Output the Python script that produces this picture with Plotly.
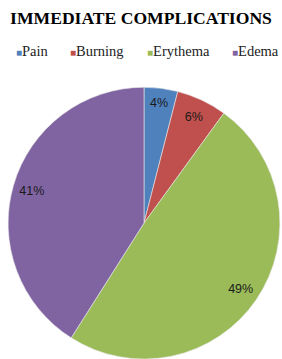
import plotly.graph_objects as go

labels = ["Pain", "Burning", "Erythema", "Edema"]
values = [4, 6, 49, 41]
colors = ["#4F81BD", "#C0504D", "#9BBB59", "#8064A2"]

dom = dict(x=[0.0248, 0.9965], y=[0.0, 0.757])

fig = go.Figure()
# base pie (slices)
fig.add_trace(go.Pie(
    labels=labels, values=values, sort=False, direction="clockwise", rotation=0,
    marker=dict(colors=colors, line=dict(color="#e8e8e8", width=0.6)),
    textinfo="none", hoverinfo="label+percent", domain=dom, showlegend=False,
))
# transparent ring overlay to carry the percentage labels near the rim
fig.add_trace(go.Pie(
    labels=labels, values=values, sort=False, direction="clockwise", rotation=0, hole=0.72,
    marker=dict(colors=["rgba(0,0,0,0)"] * 4, line=dict(width=0)),
    texttemplate="%{percent:.0%}", textposition="inside", insidetextorientation="horizontal",
    textfont=dict(family="Liberation Sans", size=12.5, color="#1a1a1a"),
    domain=dom, showlegend=False, hoverinfo="skip",
))

annotations = []
leg_x = [14, 68, 145, 230]
for lab, col, x in zip(labels, colors, leg_x):
    annotations.append(dict(
        x=x / 282, y=1 - 51 / 359, xref="paper", yref="paper", xanchor="left", yanchor="middle",
        showarrow=False,
        text=f"<span style='color:{col};font-size:10px'>■</span>{lab}",
        font=dict(family="Liberation Serif", size=14.5, color="#222"),
    ))

fig.update_layout(
    width=282, height=359, margin=dict(l=0, r=0, t=0, b=0),
    paper_bgcolor="white",
    title=dict(text="<b>IMMEDIATE COMPLICATIONS</b>", x=0.5, y=1 - 18 / 359, xanchor="center", yanchor="middle",
               font=dict(family="Liberation Serif", size=17.6, color="black")),
    annotations=annotations,
    showlegend=False,
)
fig.write_html("out.html", config={"displayModeBar": False},
               post_script="document.body.style.margin='0';document.body.style.overflow='hidden';")
